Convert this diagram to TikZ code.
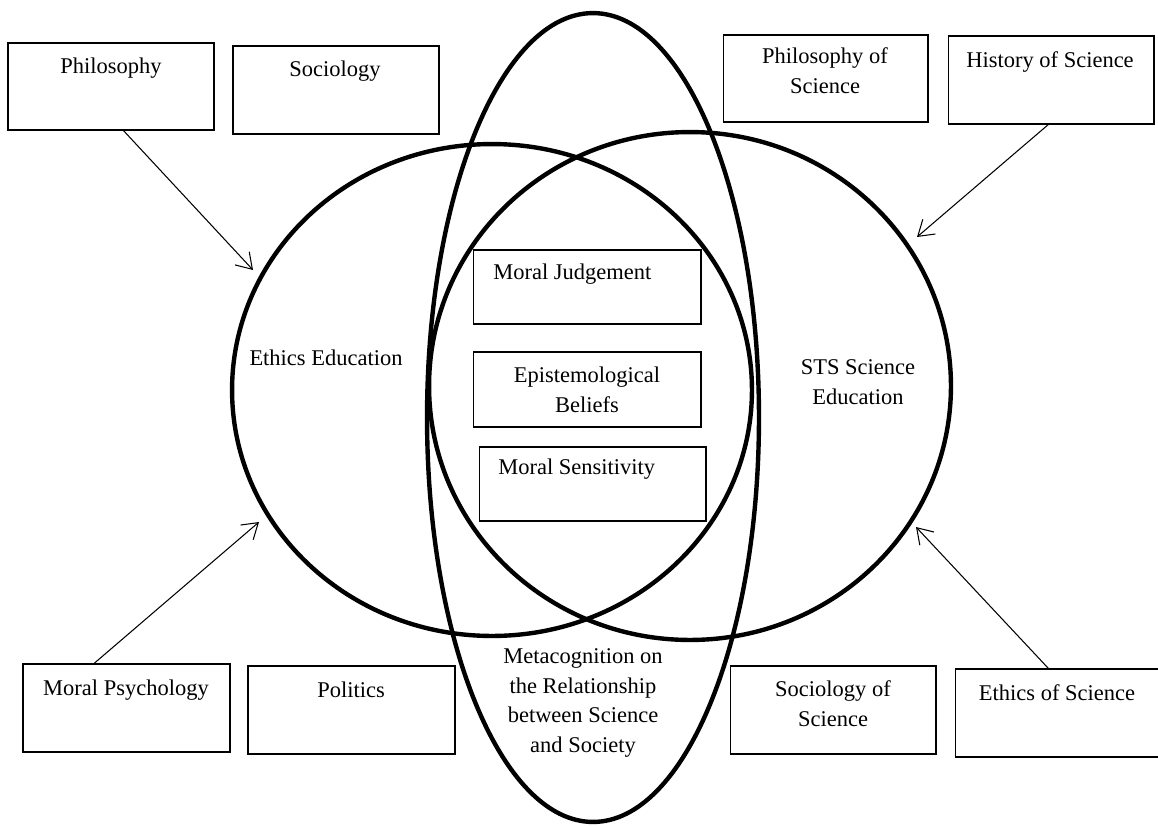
\documentclass[tikz,border=0pt]{standalone}
\usepackage{fontspec}
\setmainfont{Liberation Serif}
\usetikzlibrary{arrows.meta,calc}
\begin{document}
\begin{tikzpicture}[x=0.02cm,y=-0.02cm,
  every node/.style={font=\fontsize{12.8pt}{17pt}\selectfont},
  box/.style={draw,line width=0.6pt,inner sep=0pt,outer sep=0pt,rectangle},
  wbox/.style={box,minimum width=4.12cm,minimum height=1.76cm},
  lbl/.style={inner sep=0pt,align=center},
  ring/.style={line width=2.5pt},
  arr/.style={line width=0.6pt,-{Straight Barb[length=8.5pt,width=11pt,line width=0.6pt]}}]
\useasboundingbox (0,0) rectangle (1158,825);
\clip (0,0) rectangle (1158,825);
\fill[white] (0,0) rectangle (1158,825);
% big rings
\draw[ring] (492,390) ellipse [x radius=5.20cm, y radius=4.92cm];
\draw[ring] (690,386) ellipse [x radius=5.22cm, y radius=5.08cm];
\draw[ring] (593,417.5) ellipse [x radius=3.32cm, y radius=8.09cm];
% outer boxes
\node[wbox,minimum height=1.74cm] (phil) at (111,86.5) {};
\node[wbox] (soc) at (336,90) {};
\node[wbox,minimum width=4.10cm,minimum height=1.74cm] (phos) at (825.5,78.5) {};
\node[wbox] (hist) at (1051,80) {};
\node[wbox,minimum width=4.14cm] (mpsy) at (126.5,708) {};
\node[wbox,minimum width=4.14cm] (pol) at (351.5,710) {};
\node[wbox] (socs) at (833,710) {};
\node[wbox] (eths) at (1058,713) {};
% inner boxes
\node[box,minimum width=4.56cm,minimum height=1.48cm] (mj) at (587,287) {};
\node[box,minimum width=4.56cm,minimum height=1.50cm] (ep) at (587,389.5) {};
\node[box,minimum width=4.54cm,minimum height=1.48cm] (ms) at (592.5,484) {};
% labels
\node[lbl] (philT) at (111,68) {Philosophy};
\node[lbl] (socT) at (335,71) {Sociology};
\node[lbl] (phosT) at (825,71) {Philosophy of\\Science};
\node[lbl] (histT) at (1050,62) {History of Science};
\node[lbl] (mpsyT) at (126,690) {Moral Psychology};
\node[lbl] (polT) at (351,690) {Politics};
\node[lbl] (socsT) at (833,704) {Sociology of\\Science};
\node[lbl] (ethsT) at (1057,693) {Ethics of Science};
\node[lbl,anchor=west] (mjT) at (493,274) {Moral Judgement};
\node[lbl] (epT) at (587,390) {Epistemological\\Beliefs};
\node[lbl,anchor=west] (msT) at (498,469) {Moral Sensitivity};
\node[lbl] (eeT) at (326,358) {Ethics Education};
\node[lbl] (stsT) at (858,382) {STS Science\\Education};
\node[lbl] (metaT) at (583,703) {Metacognition on\\the Relationship\\between Science\\and Society};
% arrow tips
\coordinate (tipPhil) at (253,270);
\coordinate (tipHist) at (917,237);
\coordinate (tipMpsy) at (259,522);
\coordinate (tipEths) at (916,527);
\draw[arr] ($(phil.south west)!0.558!(phil.south east)$) -- (tipPhil);
\draw[arr] ($(hist.south west)!0.49!(hist.south east)$) -- (tipHist);
\draw[arr] ($(mpsy.north west)!0.34!(mpsy.north east)$) -- (tipMpsy);
\draw[arr] ($(eths.north west)!0.456!(eths.north east)$) -- (tipEths);
\end{tikzpicture}
\end{document}
